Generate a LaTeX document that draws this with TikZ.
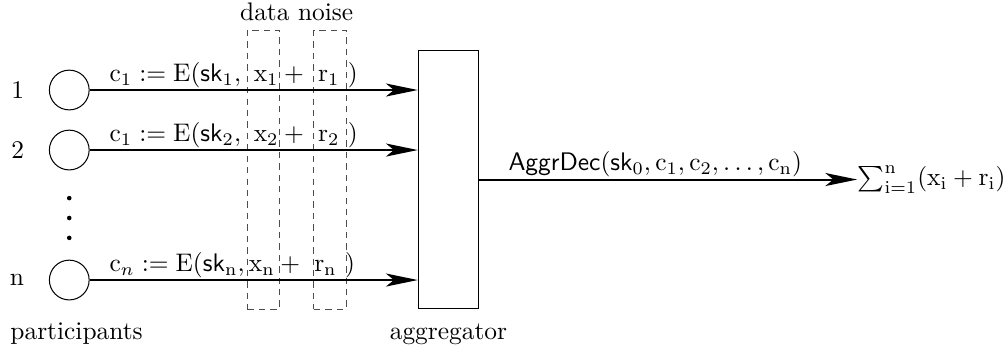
\documentclass[tikz,border=0pt]{standalone}
\usepackage{tikz}
\usetikzlibrary{positioning}
\usetikzlibrary{arrows.meta}
\usetikzlibrary{calc}

\begin{document}
\begin{tikzpicture}[party/.style={draw, circle, minimum size=0.55cm, inner sep=0pt},
		block/.style={draw, rectangle, minimum width=0.835cm, minimum height=3.58cm},
		window/.style={draw=black!70, dash pattern=on 2.5pt off 2pt, rectangle, minimum width=0.443cm, minimum height=3.86cm, inner sep=0pt},
		msg/.style={thick, -{Stealth[length=4.4mm, width=1.8mm, inset=1.1mm]}},
		tag/.style={inner sep=0.5pt}]
	\useasboundingbox (0,0) rectangle (13.886,-4.827);
	\node (p1) [party] at (0.958,-1.245) {}
	node (p2) [party] at (0.958,-2.075) {}
	node (pn) [party] at (0.958,-3.873) {}
	node (box) [block] at (6.203,-2.483) {}
	node (data) [window] at (3.642,-2.345) {}
	node (noise) [window] at (4.564,-2.345) {}
	node (res) [right=5.228cm of box, inner sep=0pt] {$\sum_{\mathrm{i=1}}^{\mathrm{n}}(\mathrm{x_i+r_i})$};
	\foreach \i in {1,2,n}
	\node (id\i) [left=0.22cm of p\i] {\i};
	\foreach \y in {-2.74,-3.015,-3.29}
	\fill (p1 |- 0,\y) circle (0.9pt);
	\node (kind) [anchor=south] at ($(data.north)!.5!(noise.north)$) {data noise};
	\node (who) [anchor=base west] at (0.02,-4.69) {participants};
	\node (agg) [anchor=base] at (box.south |- 0,-4.69) {aggregator};
	% messages of the participants
	\foreach \i/\lab in {1/{$\mathrm{c_1 := E(}\mathsf{sk}_1,\ \mathrm{x_1} + \ \mathrm{r_1}\ )$},
		2/{$\mathrm{c_1 := E(}\mathsf{sk}_2,\ \mathrm{x_2} + \ \mathrm{r_2}\ )$},
		n/{$\mathrm{c}_n \mathrel{:=} \mathrm{E(}\mathsf{sk}_\mathrm{n},\mathrm{x_n} + \ \mathrm{r_n}\ )$}}
	\draw[msg] (p\i) -- (box.west |- p\i) node[tag, pos=0, anchor=south west, xshift=0.245cm] {\lab};
	\draw[msg] (box) -- (res) node[tag, pos=0.466, above] {$\mathsf{AggrDec}(\mathsf{sk}_0,\mathrm{c_1,c_2,\ldots,c_n})$};
\end{tikzpicture}
\end{document}
